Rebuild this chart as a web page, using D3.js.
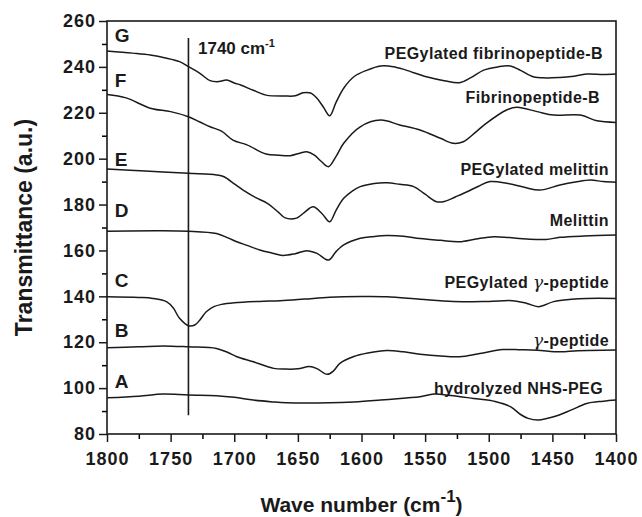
<!DOCTYPE html>
<html>
<head>
<meta charset="utf-8">
<script src="https://cdn.jsdelivr.net/npm/d3@7"></script>
<style>
body { margin: 0; background: #fff; }
text { font-family: "Liberation Sans", Arial, sans-serif; font-weight: bold; fill: #1a1a1a; }
</style>
</head>
<body>
<div id="chart"></div>
<script>
// FTIR spectra, [wave number, transmittance]
var specA = [[1800,95.8],[1775,96.5],[1756,97.4],[1736,97],[1714,96.7],[1700,96],[1685,94.8],[1670,94],[1659,93.6],[1625,93.6],[1606,94],[1585,94.8],[1565,95.7],[1554,96.2],[1543,97.4],[1530,96.8],[1512,95.5],[1495,94.2],[1483,91.9],[1475,88.5],[1469,86.8],[1461,86.1],[1449,87.5],[1435,90.5],[1423,93.3],[1410,94.3],[1400,94.8]];
var specB = [[1800,117.6],[1775,118],[1756,118.4],[1736,118],[1714,117.3],[1705,115.5],[1698,113.7],[1685,111.5],[1669,108.6],[1660,108.3],[1650,108.4],[1641,109.4],[1635,108.5],[1627,106],[1622,107.5],[1617,110.8],[1606,113.8],[1595,115.3],[1580,116.4],[1567,115.8],[1554,114.8],[1538,114],[1523,113.7],[1507,115.1],[1489,116.8],[1475,116.7],[1462,116.5],[1444,115.8],[1430,116.3],[1400,116.6]];
var specC = [[1800,139.8],[1775,139.5],[1764,139.1],[1753,137.6],[1748,135],[1743,130.4],[1736,127.2],[1731,127.5],[1727,129.7],[1722,133.3],[1716,135.5],[1710,136.5],[1700,137.2],[1680,137.8],[1664,138.1],[1645,138.8],[1625,139.6],[1600,139.9],[1580,139.8],[1554,138.7],[1528,137.7],[1500,137.8],[1481,138.1],[1470,136.9],[1461,135.5],[1449,137.7],[1435,138.7],[1423,139.1],[1400,139.1]];
var specD = [[1800,168.4],[1760,168.6],[1736,168.4],[1714,167.4],[1705,165.5],[1698,163.8],[1690,162.2],[1680,160.2],[1670,158.8],[1662,157.8],[1652,158.6],[1643,159.9],[1635,158.7],[1626,155.8],[1620,159.5],[1614,162.4],[1601,165.3],[1590,166.1],[1580,166.5],[1567,166.2],[1554,165.2],[1538,164.4],[1523,163.8],[1510,165],[1496,166],[1484,165.6],[1470,165],[1455,164.8],[1444,165.7],[1425,166.3],[1400,166.7]];
var specE = [[1800,195.5],[1770,194.6],[1736,193.6],[1714,192.9],[1708,192.1],[1700,189],[1693,186.3],[1683,183],[1674,180.5],[1665,176.5],[1660,174.2],[1651,174.1],[1645,176.5],[1638,179],[1631,176],[1625,172.5],[1620,177.5],[1614,182.7],[1607,186],[1601,187.8],[1590,189.2],[1580,189.5],[1570,188.8],[1559,187.8],[1550,184.5],[1541,181.2],[1534,181.5],[1526,183.4],[1517,185.6],[1508,188],[1499,190],[1486,189.3],[1472,187.5],[1460,186.3],[1444,188.5],[1432,189.8],[1420,190.7],[1410,190],[1400,189.7]];
var specF = [[1800,228],[1785,226.5],[1766,222],[1750,220.5],[1736,218.3],[1727,216],[1719,213.9],[1710,212],[1701,208.1],[1690,206],[1675,202],[1665,201.5],[1656,201.3],[1648,202.5],[1643,203],[1637,201.5],[1632,199],[1626,196.5],[1620,201],[1614,206.7],[1601,213.9],[1585,216.8],[1570,214.7],[1554,212.5],[1538,208.9],[1528,206.7],[1520,207.4],[1510,211.7],[1502,215.4],[1486,221.2],[1478,222.4],[1462,220.5],[1449,219],[1428,219],[1415,216.5],[1400,215.8]];
var specG = [[1800,246.9],[1780,246],[1766,245.2],[1755,244],[1743,242.3],[1736,240.1],[1727,237.2],[1719,234],[1712,233.6],[1706,234.3],[1700,233],[1695,232.1],[1685,229.8],[1675,227.7],[1660,227.3],[1652,227.4],[1646,228.7],[1640,228.6],[1635,226.3],[1630,222.5],[1625,218.7],[1620,224.5],[1614,230.7],[1606,235.7],[1596,238.5],[1585,240.4],[1575,240.1],[1565,238.6],[1549,235.7],[1535,234],[1523,233.1],[1514,235.3],[1504,238.6],[1493,240],[1483,240.4],[1475,238.5],[1465,235.7],[1455,235.2],[1444,235.4],[1435,235.8],[1423,236.9],[1410,236.7],[1400,236.9]];

var spectra = [specA, specB, specC, specD, specE, specF, specG];
var letters = ["A", "B", "C", "D", "E", "F", "G"];
var letterT = [99.9, 122.4, 144.2, 174.7, 196.8, 231.1, 250.7];
var names = ["hydrolyzed NHS-PEG", "\u03b3-peptide", "PEGylated \u03b3-peptide", "Melittin",
             "PEGylated melittin", "Fibrinopeptide-B", "PEGylated fibrinopeptide-B"];
var nameWave = [1410.2, 1405.5, 1405.5, 1405.5, 1405.5, 1412.6, 1410.2];
var nameT = [97.4, 118.3, 143.6, 170.6, 192.9, 224.3, 243.4];

var markWave = 1736;          // line drawn for the 1740 cm-1 band
var markRange = [88.2, 252.6];

var xTicks = d3.range(1800, 1399, -50);
var yTicks = d3.range(80, 261, 20);

var W = 642, H = 517;
var margin = {top: 21, right: 26, bottom: 83, left: 107};

var svg = d3.select("#chart").append("svg")
    .attr("width", W)
    .attr("height", H);

var x = d3.scaleLinear().domain([1800, 1400]).range([margin.left, W - margin.right]);
var y = d3.scaleLinear().domain([80, 260]).range([H - margin.bottom, margin.top]);

// minor ticks first
svg.append("g")
    .attr("transform", "translate(0," + (H - margin.bottom) + ")")
    .call(d3.axisBottom(x).tickValues(d3.range(1775, 1400, -50)).tickSize(5).tickFormat(""))
    .call(function(g){ g.select(".domain").remove(); })
    .selectAll("line").attr("stroke-width", 1.5);

svg.append("g")
    .attr("transform", "translate(" + margin.left + ",0)")
    .call(d3.axisLeft(y).tickValues(d3.range(90, 260, 20)).tickSize(5).tickFormat(""))
    .call(function(g){ g.select(".domain").remove(); })
    .selectAll("line").attr("stroke-width", 1.5);

var xAxis = svg.append("g")
    .attr("transform", "translate(0," + (H - margin.bottom) + ")")
    .call(d3.axisBottom(x).tickValues(xTicks).tickSize(8).tickPadding(10).tickFormat(d3.format("d")));

var yAxis = svg.append("g")
    .attr("transform", "translate(" + margin.left + ",0)")
    .call(d3.axisLeft(y).tickValues(yTicks).tickSize(8).tickPadding(3).tickFormat(d3.format("d")));

[xAxis, yAxis].forEach(function(g){
    g.select(".domain").remove();
    g.selectAll("line").attr("stroke", "#1a1a1a").attr("stroke-width", 1.5);
    g.selectAll("text")
        .style("font-size", "18px")
        .style("letter-spacing", "1px")
        .style("font-family", "Liberation Sans, Arial, sans-serif")
        .style("font-weight", "bold")
        .attr("fill", "#1a1a1a");
});

// frame
svg.append("rect")
    .attr("x", x(1800))
    .attr("y", y(260))
    .attr("width", x(1400) - x(1800))
    .attr("height", y(80) - y(260))
    .attr("fill", "none")
    .attr("stroke", "#1a1a1a")
    .attr("stroke-width", 1.6);

var line = d3.line()
    .x(function(d){ return x(d[0]); })
    .y(function(d){ return y(d[1]); })
    .curve(d3.curveCatmullRom.alpha(0.5));

svg.selectAll(".spec")
    .data(spectra)
    .enter()
    .append("path")
    .attr("class", "spec")
    .attr("d", line)
    .attr("fill", "none")
    .attr("stroke", "#1a1a1a")
    .attr("stroke-width", 1.5);

// 1740 marker
svg.append("line")
    .attr("x1", x(markWave)).attr("x2", x(markWave))
    .attr("y1", y(markRange[0])).attr("y2", y(markRange[1]))
    .attr("stroke", "#1a1a1a")
    .attr("stroke-width", 1.6);

var mark = svg.append("text")
    .attr("x", x(1728.5))
    .attr("y", y(245.6))
    .style("font-size", "17px");
mark.append("tspan").text("1740 cm");
mark.append("tspan").attr("dy", -7).style("font-size", "11px").text("-1");

svg.selectAll(".letter")
    .data(letters)
    .enter()
    .append("text")
    .attr("class", "letter")
    .attr("x", x(1794))
    .attr("y", function(d, i){ return y(letterT[i]); })
    .style("font-size", "19px")
    .text(function(d){ return d; });

// series names; the gamma is set in a serif italic like the original symbol glyph
svg.selectAll(".name")
    .data(names)
    .enter()
    .append("text")
    .attr("class", "name")
    .attr("x", function(d, i){ return x(nameWave[i]); })
    .attr("y", function(d, i){ return y(nameT[i]); })
    .attr("text-anchor", "end")
    .style("font-size", "16px")
    .style("letter-spacing", "0.4px")
    .each(function(d){
        var t = d3.select(this);
        var parts = d.split("\u03b3");
        parts.forEach(function(p, k){
            if (k > 0) {
                t.append("tspan")
                    .style("font-family", "DejaVu Serif, serif")
                    .style("font-style", "italic")
                    .style("font-weight", "normal")
                    .style("font-size", "17px")
                    .text("\u03b3");
            }
            if (p.length) t.append("tspan").text(p);
        });
    });

// axis titles
svg.append("text")
    .attr("transform", "translate(32," + ((y(80) + y(260)) / 2) + ") rotate(-90)")
    .attr("text-anchor", "middle")
    .style("font-size", "23px")
    .text("Transmittance (a.u.)");

var xt = svg.append("text")
    .attr("x", (x(1800) + x(1400)) / 2)
    .attr("y", 512)
    .attr("text-anchor", "middle")
    .style("font-size", "21px");
xt.append("tspan").text("Wave number (cm");
xt.append("tspan").attr("dy", -10).style("font-size", "17px").text("-1");
xt.append("tspan").attr("dy", 10).text(")");
</script>
</body>
</html>
